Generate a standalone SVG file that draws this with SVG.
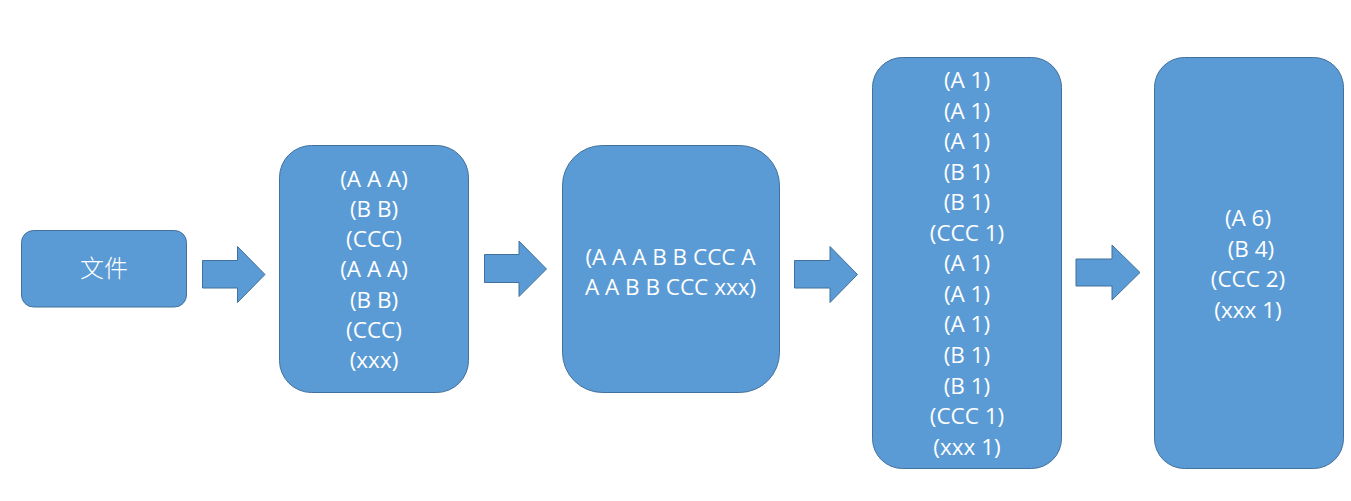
<svg xmlns="http://www.w3.org/2000/svg" width="1351" height="501" viewBox="0 0 1351 501">
<style>
.box{fill:#5B9BD5;stroke:#41719C;stroke-width:1}
.arr{fill:#5B9BD5;stroke:#41719C;stroke-width:1}
.t{fill:#FFFFFF;font-family:"Open Sans","Noto Sans",sans-serif;font-size:22.5px;text-anchor:middle}
.cjk{fill:#FFFFFF;font-family:"Noto Sans CJK SC",sans-serif;font-size:24px;font-weight:300;text-anchor:middle}
</style>
<rect width="1351" height="501" fill="#FFFFFF"/>
<g id="connectors">
<polygon class="arr" points="202.5,260.5 237.5,260.5 237.5,246.5 265,274.5 237.5,302.5 237.5,288 202.5,288"/>
<polygon class="arr" points="484.5,254.5 519,254.5 519,241 546.5,269 519,296.5 519,282.5 484.5,282.5"/>
<polygon class="arr" points="794.5,260.5 830,260.5 830,246.5 857.5,274.5 830,302.5 830,288 794.5,288"/>
<polygon class="arr" points="1076,259 1112,259 1112,245 1140,272.5 1112,300 1112,286 1076,286"/>
</g>
<g id="node-file">
<rect class="box" x="21.5" y="230.5" width="165" height="76.5" rx="12"/>
<text class="cjk" x="104" y="277">文件</text>
</g>
<g id="node-lines">
<rect class="box" x="279.5" y="145.5" width="189" height="247" rx="32"/>
<text class="t" x="374" y="186.5">(A A A)</text>
<text class="t" x="374" y="216.8">(B B)</text>
<text class="t" x="374" y="247.1">(CCC)</text>
<text class="t" x="374" y="277.4">(A A A)</text>
<text class="t" x="374" y="307.7">(B B)</text>
<text class="t" x="374" y="338">(CCC)</text>
<text class="t" x="374" y="368.3">(xxx)</text>
</g>
<g id="node-words">
<rect class="box" x="562.5" y="145.5" width="217" height="247" rx="40"/>
<text class="t" x="670.5" y="264.7">(A A A B B CCC A</text>
<text class="t" x="670.5" y="294.7">A A B B CCC xxx)</text>
</g>
<g id="node-pairs">
<rect class="box" x="872.5" y="57.5" width="189" height="411" rx="30"/>
<text class="t" x="967" y="88">(A 1)</text>
<text class="t" x="967" y="118.56">(A 1)</text>
<text class="t" x="967" y="149.12">(A 1)</text>
<text class="t" x="967" y="179.68">(B 1)</text>
<text class="t" x="967" y="210.24">(B 1)</text>
<text class="t" x="967" y="240.8">(CCC 1)</text>
<text class="t" x="967" y="271.36">(A 1)</text>
<text class="t" x="967" y="301.92">(A 1)</text>
<text class="t" x="967" y="332.48">(A 1)</text>
<text class="t" x="967" y="363.04">(B 1)</text>
<text class="t" x="967" y="393.6">(B 1)</text>
<text class="t" x="967" y="424.16">(CCC 1)</text>
<text class="t" x="967" y="454.72">(xxx 1)</text>
</g>
<g id="node-counts">
<rect class="box" x="1154.5" y="57.5" width="189" height="411" rx="30"/>
<text class="t" x="1248" y="226.3">(A 6)</text>
<text class="t" x="1251" y="256.8">(B 4)</text>
<text class="t" x="1248" y="287.3">(CCC 2)</text>
<text class="t" x="1248" y="317.8">(xxx 1)</text>
</g>
</svg>
